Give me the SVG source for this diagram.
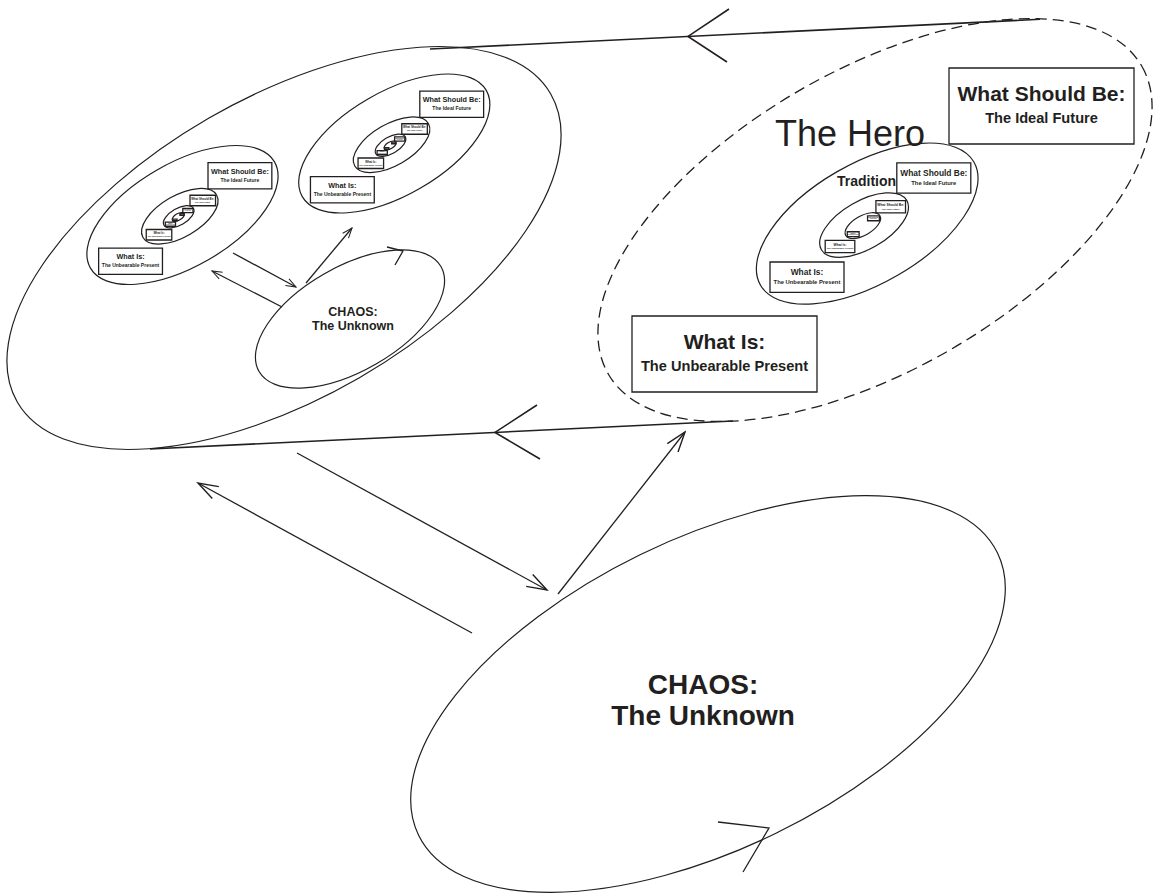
<svg xmlns="http://www.w3.org/2000/svg" xmlns:xlink="http://www.w3.org/1999/xlink" width="1154" height="893" viewBox="0 0 1154 893">
<style>
.ln{fill:none;stroke:#231f20;stroke-width:1.6}
.ar{fill:none;stroke:#231f20;stroke-width:1.3}
.ell{fill:none;stroke:#231f20;stroke-width:1.2;vector-effect:non-scaling-stroke}
.box{fill:#fff;stroke:#231f20;stroke-width:1.3;vector-effect:non-scaling-stroke}
.dash{fill:none;stroke:#231f20;stroke-width:1.3;stroke-dasharray:11 6}
text{font-family:"Liberation Sans",Arial,Helvetica,sans-serif;fill:#231f20}
.b{font-weight:bold;text-anchor:middle}
</style>
<defs>
<marker id="ahBig" viewBox="-24 -10 26 20" refX="0" refY="0" markerWidth="26" markerHeight="20" markerUnits="userSpaceOnUse" orient="auto">
<path d="M-20,-6.8 L0,0 L-20,6.8" fill="none" stroke="#231f20" stroke-width="1.4"/>
</marker>
<marker id="ahSmall" viewBox="-12 -6 14 12" refX="0" refY="0" markerWidth="14" markerHeight="12" markerUnits="userSpaceOnUse" orient="auto">
<path d="M-10,-3.8 L0,0 L-10,3.8" fill="none" stroke="#231f20" stroke-width="1"/>
</marker>
<g id="boxes">
<rect class="box" x="949" y="68" width="185" height="76"/>
<text class="b" x="1041.5" y="101" font-size="21">What Should Be:</text>
<text class="b" x="1041.5" y="123" font-size="14.6">The Ideal Future</text>
<rect class="box" x="632" y="316" width="185" height="76"/>
<text class="b" x="724.5" y="349" font-size="21">What Is:</text>
<text class="b" x="724.5" y="371" font-size="14.6">The Unbearable Present</text>
</g>
<ellipse id="ell" class="ell" cx="875" cy="220" rx="308" ry="150" transform="rotate(-30 875 220)"/>
<g id="lvl"><use href="#ell"/><use href="#boxes"/></g>
<g id="sub">
<use href="#lvl" transform="matrix(0.4 0 0 0.4 517.2 135.6)"/>
<use href="#lvl" transform="matrix(0.16 0 0 0.16 724.08 189.84)"/>
<use href="#lvl" transform="matrix(0.064 0 0 0.064 806.83 211.54)"/>
</g>
</defs>

<g id="hero">
<ellipse class="dash" cx="875" cy="220" rx="308" ry="150" transform="rotate(-30 875 220)"/>
<use href="#boxes"/>
<text x="775" y="146" font-size="36">The Hero</text>
<text x="837" y="186" font-size="14" font-weight="bold">Tradition</text>
<use href="#sub"/>
</g>

<g id="group-left">
<ellipse class="ell" cx="284" cy="248" rx="308" ry="150" transform="rotate(-30 284 248)"/>
</g>

<g id="cluster-upper" transform="matrix(0.345 0 0 0.345 92.4 67.6)">
<use href="#lvl"/><use href="#sub"/>
</g>

<g id="cluster-left" transform="matrix(0.345 0 0 0.345 -119.4 139.1)">
<use href="#lvl"/><use href="#sub"/>
</g>

<g id="chaos-small">
<ellipse class="ell" cx="350" cy="319" rx="105" ry="52" transform="rotate(-30 350 319)"/>
<text class="b" x="353" y="316" font-size="12.5">CHAOS:</text>
<text class="b" x="353" y="330" font-size="12.5">The Unknown</text>
</g>

<g id="chaos-big">
<ellipse class="ell" cx="708" cy="694" rx="322" ry="155" transform="rotate(-26 708 694)"/>
<text class="b" x="703" y="694" font-size="28">CHAOS:</text>
<text class="b" x="703" y="725" font-size="28">The Unknown</text>
</g>

<g id="connectors">
<path class="ln" d="M430,49 L1040,19.3"/>
<path class="ln" d="M729,9 L688,36.4 L727,62"/>
<path class="ln" d="M150,449 L733,421"/>
<path class="ln" d="M537,405 L495,432.4 L540,459"/>
<path class="ar" d="M718,822 L769,828 L743,872"/>
<path class="ar" d="M387,247 L403,251 L395,265"/>
<path class="ar" d="M297,453 L547,590" marker-end="url(#ahBig)"/>
<path class="ar" d="M472,633 L198,483" marker-end="url(#ahBig)"/>
<path class="ar" d="M558,594 L685,432" marker-end="url(#ahBig)"/>
<path class="ar" d="M233,253 L296,287" marker-end="url(#ahSmall)"/>
<path class="ar" d="M282,307 L212,271" marker-end="url(#ahSmall)"/>
<path class="ar" d="M306,283 L352,228" marker-end="url(#ahSmall)"/>
</g>
</svg>
